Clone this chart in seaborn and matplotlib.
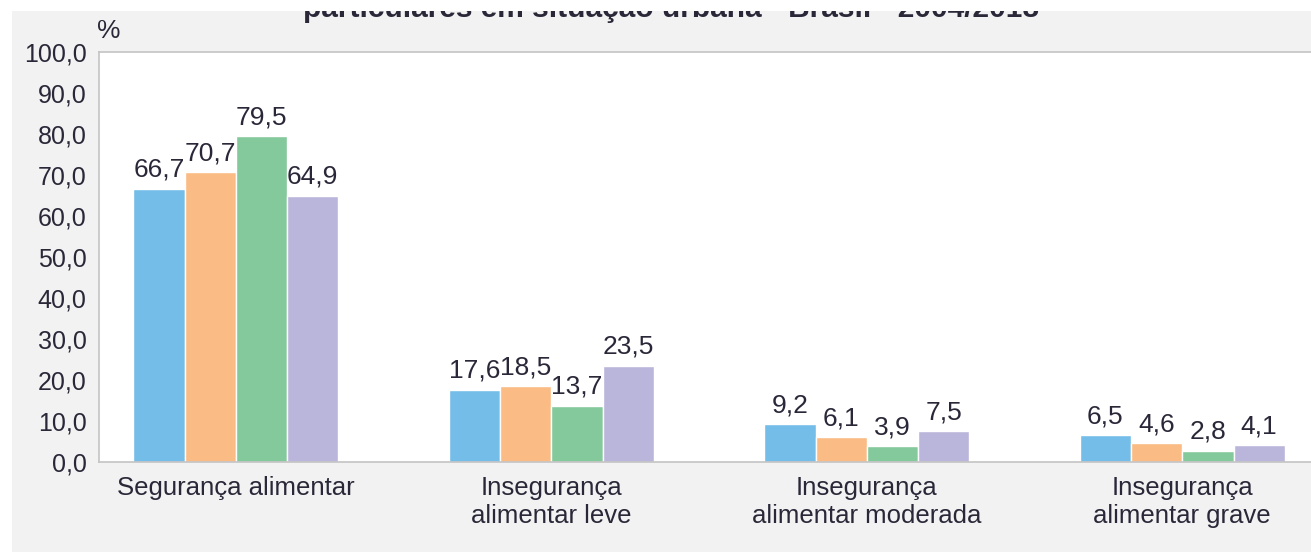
import pandas as pd
import numpy as np
import matplotlib
matplotlib.use("Agg")
import matplotlib.pyplot as plt
import seaborn as sns
from matplotlib.patches import Rectangle

# Data
categories = ["Segurança alimentar", "Insegurança\nalimentar leve",
              "Insegurança\nalimentar moderada", "Insegurança\nalimentar grave"]
years = ["2004", "2009", "2013", "2018"]
v2004 = [66.7, 17.6, 9.2, 6.5]
v2009 = [70.7, 18.5, 6.1, 4.6]
v2013 = [79.5, 13.7, 3.9, 2.8]
v2018 = [64.9, 23.5, 7.5, 4.1]
colors = ["#74bde8", "#fbbb84", "#84c99b", "#bab5da"]
title = "particulares em situação urbana - Brasil - 2004/2018"

# Long-form table for seaborn
rows = []
for year, vals in zip(years, [v2004, v2009, v2013, v2018]):
    for cat, v in zip(categories, vals):
        rows.append({"categoria": cat, "ano": year, "valor": v})
df = pd.DataFrame(rows)

sns.set_style("white")
plt.rcParams["font.family"] = ["Liberation Sans", "DejaVu Sans"]
text_color = "#2a2838"

fig = plt.figure(figsize=(13.11, 5.52), dpi=100)
fig.patch.set_facecolor("#f2f2f2")

W, H = 1311, 552
ax = fig.add_axes([99 / W, (H - 462) / H, (W - 99) / W, (462 - 52) / H])
ax.set_facecolor("white")

sns.barplot(data=df, x="categoria", y="valor", hue="ano", palette=colors,
            width=0.65, gap=0, saturation=1, ax=ax, legend=False)

for cont, vals in zip(ax.containers, [v2004, v2009, v2013, v2018]):
    labels = [f"{v:.1f}".replace(".", ",") for v in vals]
    ax.bar_label(cont, labels=labels, padding=5, fontsize=19, color=text_color)

ax.set_ylim(0, 100)
ax.set_xlim(-0.434, 3.408)
yt = np.arange(0, 101, 10)
ax.set_yticks(yt)
ax.set_yticklabels([f"{t:.1f}".replace(".", ",") for t in yt], fontsize=18, color=text_color)
ax.tick_params(axis="y", length=6, width=1, color="#9a9a9a", pad=3)
ax.tick_params(axis="x", length=0, pad=10, labelsize=18.5, labelcolor=text_color)
ax.set_xlabel("")
ax.set_ylabel("")

for side in ["left", "bottom", "top"]:
    ax.spines[side].set_visible(True)
    ax.spines[side].set_color("#c4c4c4")
    ax.spines[side].set_linewidth(1.2)
ax.spines["right"].set_visible(False)

fig.text(109 / W, 1 - 31 / H, "%", fontsize=19, color=text_color, ha="center", va="center")

# Title, cut off at the top as in the reference
fig.text(671 / W, 1 - 17 / H, title, fontsize=21.5, fontweight="bold",
         color=text_color, ha="center", va="baseline", zorder=5)
fig.patches.append(Rectangle((0, 1 - 11 / H), 1, 11 / H, transform=fig.transFigure,
                             facecolor="white", edgecolor="none", zorder=10))
fig.patches.append(Rectangle((0, 0), 12 / W, 1, transform=fig.transFigure,
                             facecolor="white", edgecolor="none", zorder=10))

fig.savefig("out.png", dpi=100)
